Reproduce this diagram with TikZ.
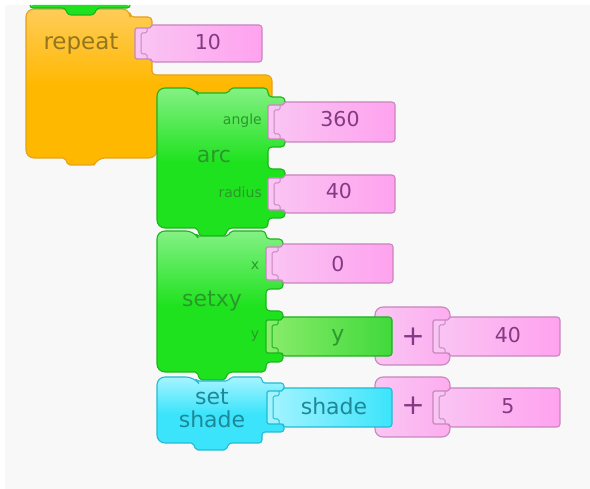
\documentclass[tikz,border=0pt]{standalone}
\usepackage{fontspec}
\setmainfont{DejaVu Sans}
\definecolor{bg}{HTML}{F8F8F8}
\definecolor{otop}{HTML}{FFCC58}
\definecolor{omain}{HTML}{FFB800}
\definecolor{oline}{HTML}{E3A11C}
\definecolor{otext}{HTML}{94761E}
\definecolor{gtop}{HTML}{84F184}
\definecolor{gmain}{HTML}{1FE21F}
\definecolor{gline}{HTML}{1CB41C}
\definecolor{gtext}{HTML}{2A992A}
\definecolor{ptop}{HTML}{F9C6F3}
\definecolor{pmain}{HTML}{FFA2EF}
\definecolor{pline}{HTML}{C886BF}
\definecolor{ptext}{HTML}{853883}
\definecolor{ctop}{HTML}{A6F4FF}
\definecolor{cmain}{HTML}{3CE4FB}
\definecolor{cline}{HTML}{22BBD2}
\definecolor{ctext}{HTML}{1C8898}
\definecolor{ytop}{HTML}{8AEC6C}
\definecolor{ymain}{HTML}{40D93A}
\tikzset{
  blockline/.style={line width=1.1pt, line join=round},
  oblock/.style={blockline, draw=oline, top color=otop, bottom color=omain, middle color=omain},
  gblock/.style={blockline, draw=gline, top color=gtop, bottom color=gmain, middle color=gmain},
  cblock/.style={blockline, draw=cline, top color=ctop, bottom color=cmain, middle color=cmain},
  prep/.style={blockline, draw=pline, left color=ptop, right color=pmain},
  pplus/.style={blockline, draw=pline, left color=ptop, right color=pmain!70!ptop},
  grep/.style={blockline, draw=gline, left color=ytop, right color=ymain},
  crep/.style={blockline, draw=cline, left color=ctop, right color=cmain},
  word/.style={inner sep=0pt, font=\fontsize{22}{25}\selectfont},
  small/.style={inner sep=0pt, font=\fontsize{14}{16}\selectfont},
  num/.style={inner sep=0pt, font=\fontsize{20.5}{24}\selectfont},
  plussign/.style={inner sep=0pt, font=\fontsize{28}{30}\selectfont},
}
% reporter block: #1 style, #2 line colour, #3 L, #4 T, #5 R, #6 B
\newcommand{\tarep}[6]{%
  \path[#1] ({(#3+#5)/2},{#4}) [rounded corners=3] -- ({#5},{#4}) -- ({#5},{#6}) -- ({#3+16},{#6}) [rounded corners=1.5] -- ({#3+16},{#6-3}) -- ({#3},{#6-3}) -- ({#3},{#4+3}) -- ({#3+16},{#4+3}) -- ({#3+16},{#4}) -- cycle;
  \draw[draw=#2, line width=1pt, rounded corners=1.5] ({#3+12},{#4+3}) -- ({#3+12},{#4+8}) -- ({#3+6},{#4+8}) -- ({#3+6},{#6-8}) -- ({#3+12},{#6-8}) -- ({#3+12},{#6-3});
}
\begin{document}
\begin{tikzpicture}[x=1pt,y=-1pt]
\useasboundingbox (0,0) rectangle (590,489);
\fill[white] (0,0) rectangle (590,489);
\fill[bg] (5,5) rectangle (590,489);

% repeat block
\path[oblock] (26,80) [rounded corners=8] -- (26,9) -- (130,9) [rounded corners=4] -- (130,17) -- (152,17) -- (152,75) [rounded corners=6] -- (272,75) [sharp corners] -- (272,100) -- (157,100) [rounded corners=8] -- (157,158) -- (97,158) [rounded corners=2] -- (94,165) -- (68,165) -- (65,158) [rounded corners=8] -- (26,158) -- cycle;

% partial block above
\path[fill=gmain, rounded corners=3] (30,5) -- (30,8) -- (65,8) -- (68,15) -- (94,15) -- (97,8) -- (130,8) -- (130,5) -- cycle;
\draw[blockline, draw=gline, rounded corners=3] (30,5) -- (30,8) -- (65,8) -- (68,15) -- (94,15) -- (97,8) -- (130,8) -- (130,5);

\tarep{prep}{pline}{135}{25}{262}{62}

% arc block
\path[gblock] (157,160) [rounded corners=8] -- (157,88) -- (194,88) [rounded corners=2] -- (197,93) -- (228,93) -- (231,88) [rounded corners=4] -- (268,88) -- (268,97) -- (285,97) -- (285,147) -- (268,147) -- (268,169) -- (285,169) -- (285,218) -- (268,218) -- (268,228) -- (228,228) [rounded corners=2] -- (225,236) -- (200,236) -- (197,228) [rounded corners=8] -- (157,228) -- cycle;
\tarep{prep}{pline}{268}{102}{395}{142}
\tarep{prep}{pline}{268}{175}{395}{213}

% setxy block
\path[gblock] (157,300) [rounded corners=8] -- (157,231) -- (194,231) [rounded corners=2] -- (197,236) -- (228,236) -- (231,231) [rounded corners=4] -- (266,231) -- (266,239) -- (283,239) -- (283,289) -- (266,289) -- (266,311) -- (283,311) -- (283,362) -- (266,362) -- (266,372) -- (228,372) [rounded corners=2] -- (225,380) -- (200,380) -- (197,372) [rounded corners=8] -- (157,372) -- cycle;
\tarep{prep}{pline}{266}{244}{393}{283}
\path[pplus, rounded corners=8] (375,307) rectangle (450,365);
\tarep{grep}{gline}{266}{317}{392}{356}
\tarep{prep}{pline}{433}{317}{560}{356}

% set shade block
\path[cblock] (157,410) [rounded corners=8] -- (157,377) -- (194,377) [rounded corners=2] -- (197,381) -- (228,381) -- (231,377) [rounded corners=3] -- (262,377) -- (262,383) -- (284,383) -- (284,432) -- (262,432) -- (262,443) -- (229,443) [rounded corners=2] -- (226,450) -- (196,450) -- (193,443) [rounded corners=8] -- (157,443) -- cycle;
\path[pplus, rounded corners=8] (375,377) rectangle (450,437);
\tarep{crep}{cline}{267}{388}{392}{427}
\tarep{prep}{pline}{433}{388}{560}{427}

% texts
\node[word, text=otext, anchor=base, font=\fontsize{23}{26}\selectfont] (trepeat) at (81,50) {repeat};
\node[num, text=ptext, anchor=base] (t10) at (208,50) {10};
\node[small, text=gtext, anchor=base east] (tangle) at (262,125) {angle};
\node[word, text=gtext, anchor=base] (tarc) at (214,163) {arc};
\node[small, text=gtext, anchor=base east] (tradius) at (262,198) {radius};
\node[num, text=ptext, anchor=base] (t360) at (340,127) {360};
\node[num, text=ptext, anchor=base] (t40a) at (339,199) {40};
\node[small, text=gtext, anchor=base] (tx) at (255,270) {x};
\node[word, text=gtext, anchor=base] (tsetxy) at (212,307) {setxy};
\node[num, text=ptext, anchor=base] (t0) at (338,272) {0};
\node[small, text=gtext, anchor=base] (tylab) at (255,339) {y};
\node[word, text=gtext, anchor=base] (ty) at (338,342) {y};
\node[plussign, text=ptext] (tplusa) at (413,337) {+};
\node[num, text=ptext, anchor=base] (t40b) at (508,343) {40};
\node[word, text=ctext, anchor=base] (tset) at (212,405) {set};
\node[word, text=ctext, anchor=base] (tshade) at (212,428) {shade};
\node[word, text=ctext, anchor=base] (tshaderep) at (334,415) {shade};
\node[plussign, text=ptext] (tplusb) at (413,406) {+};
\node[num, text=ptext, anchor=base] (t5) at (508,414) {5};
\end{tikzpicture}
\end{document}
